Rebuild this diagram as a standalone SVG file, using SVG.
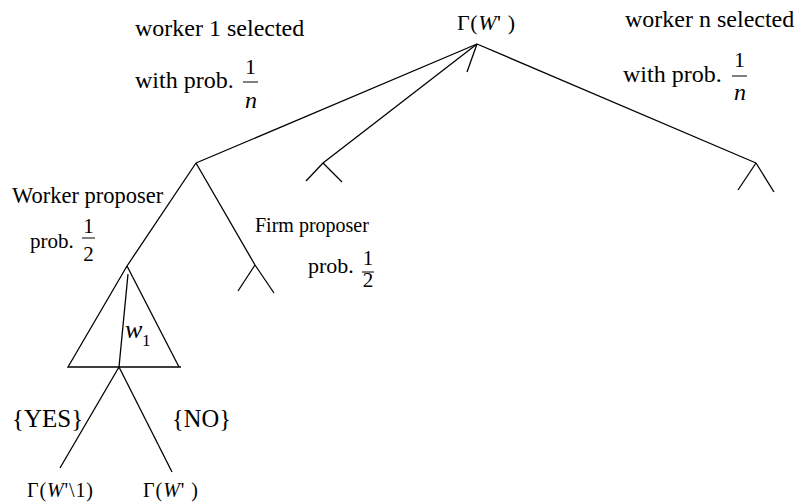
<svg xmlns="http://www.w3.org/2000/svg" width="800" height="502" viewBox="0 0 800 502">
<style>
text{font-family:"Liberation Serif","Times New Roman",serif;fill:#000}
.it{font-style:italic}
.top{font-size:24px}
line,polyline{stroke:#000;stroke-width:1.3;fill:none}
.bar{stroke-width:1}
</style>
<rect width="800" height="502" fill="#fff"/>
<g id="connectors">
<line x1="477" y1="44" x2="196" y2="163"/>
<line x1="477" y1="44" x2="323" y2="163"/>
<line x1="477" y1="44" x2="467" y2="72"/>
<line x1="477" y1="44" x2="756" y2="163"/>
<line x1="323" y1="163" x2="306" y2="181"/>
<line x1="323" y1="163" x2="342" y2="182"/>
<line x1="756" y1="163" x2="738" y2="190"/>
<line x1="756" y1="163" x2="774" y2="192"/>
<line x1="196" y1="163" x2="127" y2="266"/>
<line x1="196" y1="163" x2="255" y2="265"/>
<line x1="255" y1="265" x2="238" y2="291"/>
<line x1="255" y1="265" x2="274" y2="293"/>
<line x1="119" y1="367" x2="60" y2="468"/>
<line x1="119" y1="367" x2="172" y2="472"/>
</g>
<g id="root">
<text x="457" y="30" font-size="22" textLength="58">Γ(<tspan class="it">W</tspan>' )</text>
</g>
<g id="label-worker1">
<text class="top" x="135" y="36">worker 1 selected</text>
<text class="top" x="135" y="88">with prob.</text>
<text x="250.5" y="74" font-size="22" text-anchor="middle">1</text>
<line class="bar" x1="243" y1="82" x2="258" y2="82"/>
<text x="251" y="108" font-size="24" class="it" text-anchor="middle">n</text>
</g>
<g id="label-workern">
<text class="top" x="625" y="27">worker n selected</text>
<text class="top" x="623" y="82">with prob.</text>
<text x="739.5" y="67" font-size="22" text-anchor="middle">1</text>
<line class="bar" x1="732" y1="76" x2="747" y2="76"/>
<text x="740" y="100" font-size="24" class="it" text-anchor="middle">n</text>
</g>
<g id="label-worker-proposer">
<text x="12" y="203" font-size="22.5">Worker proposer</text>
<text x="30" y="248" font-size="21">prob.</text>
<text x="88.5" y="233" font-size="21" text-anchor="middle">1</text>
<line class="bar" x1="82" y1="238" x2="95" y2="238"/>
<text x="88.5" y="261" font-size="21" text-anchor="middle">2</text>
</g>
<g id="label-firm-proposer">
<text x="255" y="232" font-size="20">Firm proposer</text>
<text x="308" y="273" font-size="22">prob.</text>
<text x="368" y="265" font-size="21" text-anchor="middle">1</text>
<line class="bar" x1="362" y1="272" x2="374" y2="272"/>
<text x="368" y="287" font-size="21" text-anchor="middle">2</text>
</g>
<g id="node-w1">
<polyline points="127,266 68,367 181,367"/>
<line x1="127" y1="266" x2="179" y2="367"/>
<line x1="128" y1="274" x2="119" y2="367"/>
<text x="125" y="338" font-size="26" class="it">w</text>
<text x="142" y="346" font-size="17">1</text>
</g>
<g id="label-yes">
<text x="12" y="427" font-size="25">{YES}</text>
</g>
<g id="label-no">
<text x="172" y="427" font-size="24.5">{NO}</text>
</g>
<g id="leaf-yes">
<text x="27" y="497" font-size="20" textLength="66">Γ(<tspan class="it">W</tspan>'\1)</text>
</g>
<g id="leaf-no">
<text x="143" y="497" font-size="20" textLength="55">Γ(<tspan class="it">W</tspan>' )</text>
</g>
</svg>
